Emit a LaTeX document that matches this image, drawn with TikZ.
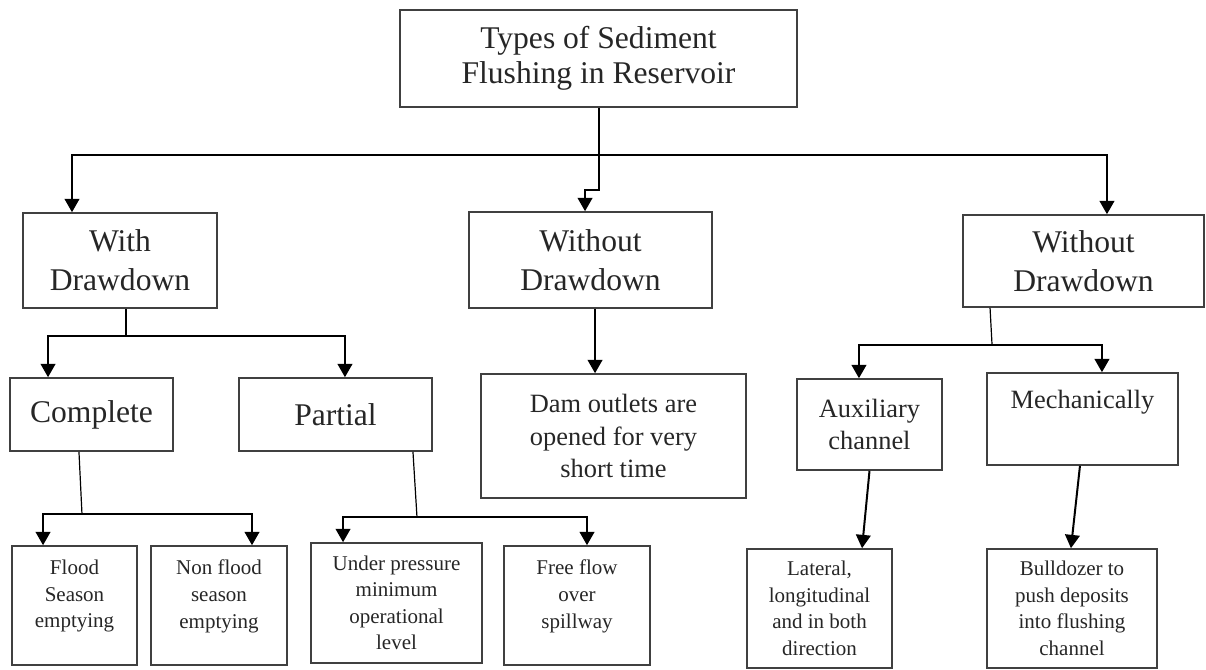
\documentclass[tikz,border=0pt]{standalone}
\usepackage{fontspec}
\setmainfont{Liberation Serif}
\usetikzlibrary{arrows.meta,positioning}

\tikzset{
  box/.style={draw=black!75, line width=1.2pt, align=center, inner sep=2pt, text=black!85},
  big/.style={font=\fontsize{23.7}{29}\selectfont},
  mid/.style={font=\fontsize{19.8}{24.2}\selectfont},
  small/.style={font=\fontsize{15.75}{19.9}\selectfont},
  toplbl/.style={anchor=north, align=center, inner sep=0pt, text=black!85},
  link/.style={line width=1.5pt},
  thinlink/.style={line width=0.9pt},
  arr/.style={line width=1.5pt, -{Triangle[width=11pt,length=10pt]}},
}

\begin{document}
\begin{tikzpicture}[x=0.75pt, y=-0.75pt]
  \useasboundingbox (0,0) rectangle (1206,669);
  % Top level
  \node[box, font=\fontsize{23.7}{26}\selectfont, minimum width=297.75pt, minimum height=72.75pt] (root) at (598.5,58.5) {Types of Sediment\\Flushing in Reservoir};
  % Second level
  \node[box, big, minimum width=145.5pt, minimum height=71.25pt] (wd) at (120,260.5) {With\\Drawdown};
  \node[box, big, minimum width=182.25pt, minimum height=72pt] (wod) at (590.5,260) {Without\\Drawdown};
  \node[box, big, minimum width=180.75pt, minimum height=69pt] (wodr) at (1083.5,261) {Without\\Drawdown};
  % Third level
  \node[box, big, minimum width=122.25pt, minimum height=54.75pt] (complete) at (91.5,414.5) {Complete};
  \node[box, big, minimum width=144.75pt, minimum height=54.75pt] (partial) at (335.5,414.5) {Partial};
  \node[box, mid, minimum width=198.75pt, minimum height=93pt] (dam) at (613.5,436) {Dam outlets are\\opened for very\\short time};
  \node[box, mid, minimum width=108.75pt, minimum height=68.25pt] (aux) at (869.5,424.5) {Auxiliary\\channel};
  \node[box, minimum width=143.25pt, minimum height=69pt,
        label={[toplbl, mid, yshift=-13.3pt]north:Mechanically}] (mech) at (1082.5,419) {};
  % Bottom level
  \node[box, minimum width=93.75pt, minimum height=89.25pt,
        label={[toplbl, small, yshift=-11pt]north:{Flood\\Season\\emptying}}] (flood) at (74.5,605.5) {};
  \node[box, minimum width=102pt, minimum height=89.25pt,
        label={[toplbl, small, yshift=-11pt]north:{Non flood\\season\\emptying}}] (nonflood) at (219,605.5) {};
  \node[box, small, minimum width=128.25pt, minimum height=90pt] (under) at (396.5,603) {Under pressure\\minimum\\operational\\level};
  \node[box, minimum width=109.5pt, minimum height=89.25pt,
        label={[toplbl, small, yshift=-11pt]north:{Free flow\\over\\spillway}}] (free) at (577,605.5) {};
  \node[box, small, minimum width=108.75pt, minimum height=89.25pt] (lateral) at (819.5,608.5) {Lateral,\\longitudinal\\and in both\\direction};
  \node[box, small, minimum width=127.5pt, minimum height=89.25pt] (bull) at (1072,608.5) {Bulldozer to\\push deposits\\into flushing\\channel};

  % Connectors from the top box
  \coordinate (bus) at (0,155);
  \draw[link] (root.south) -- (root.south |- bus);
  \draw[arr] (root.south |- bus) -| ([xshift=-36pt]wd.north);
  \draw[arr] (root.south |- bus) -| ([xshift=17.6pt]wodr.north);
  \draw[arr] (root.south |- bus) -- ++(0,35) -| ([xshift=-4.1pt]wod.north);
  % With drawdown
  \draw[link] ([xshift=4.5pt]wd.south) -- ++(0,27) coordinate (jwd);
  \draw[arr] (jwd) -| ([xshift=-32.6pt]complete.north);
  \draw[arr] (jwd) -| ([xshift=7.1pt]partial.north);
  % Without drawdown (middle)
  \draw[arr] ([xshift=3.4pt]wod.south) -- ([xshift=3.4pt]wod.south |- dam.north);
  % Without drawdown (right)
  \draw[thinlink] ([xshift=-70.1pt]wodr.south) -- ++(2,37) coordinate (jwr);
  \draw[arr] (jwr) -| ([xshift=-7.9pt]aux.north);
  \draw[arr] (jwr) -| ([xshift=14.6pt]mech.north);
  % Complete and partial
  \draw[thinlink] ([xshift=-9.4pt]complete.south) -- ++(3,62) coordinate (jc);
  \draw[arr] (jc) -| ([xshift=-23.6pt]flood.north);
  \draw[arr] (jc) -| ([xshift=24.75pt]nonflood.north);
  \draw[thinlink] ([xshift=58.1pt]partial.south) -- ++(4,65) coordinate (jp);
  \draw[arr] (jp) -| ([xshift=-40.1pt]under.north);
  \draw[arr] (jp) -| ([xshift=7.5pt]free.north);
  % Auxiliary and mechanical
  \draw[arr] (aux.south) -- ([xshift=31.9pt]lateral.north);
  \draw[arr] ([xshift=-1.9pt]mech.south) -- ([xshift=-0.8pt]bull.north);
\end{tikzpicture}
\end{document}
